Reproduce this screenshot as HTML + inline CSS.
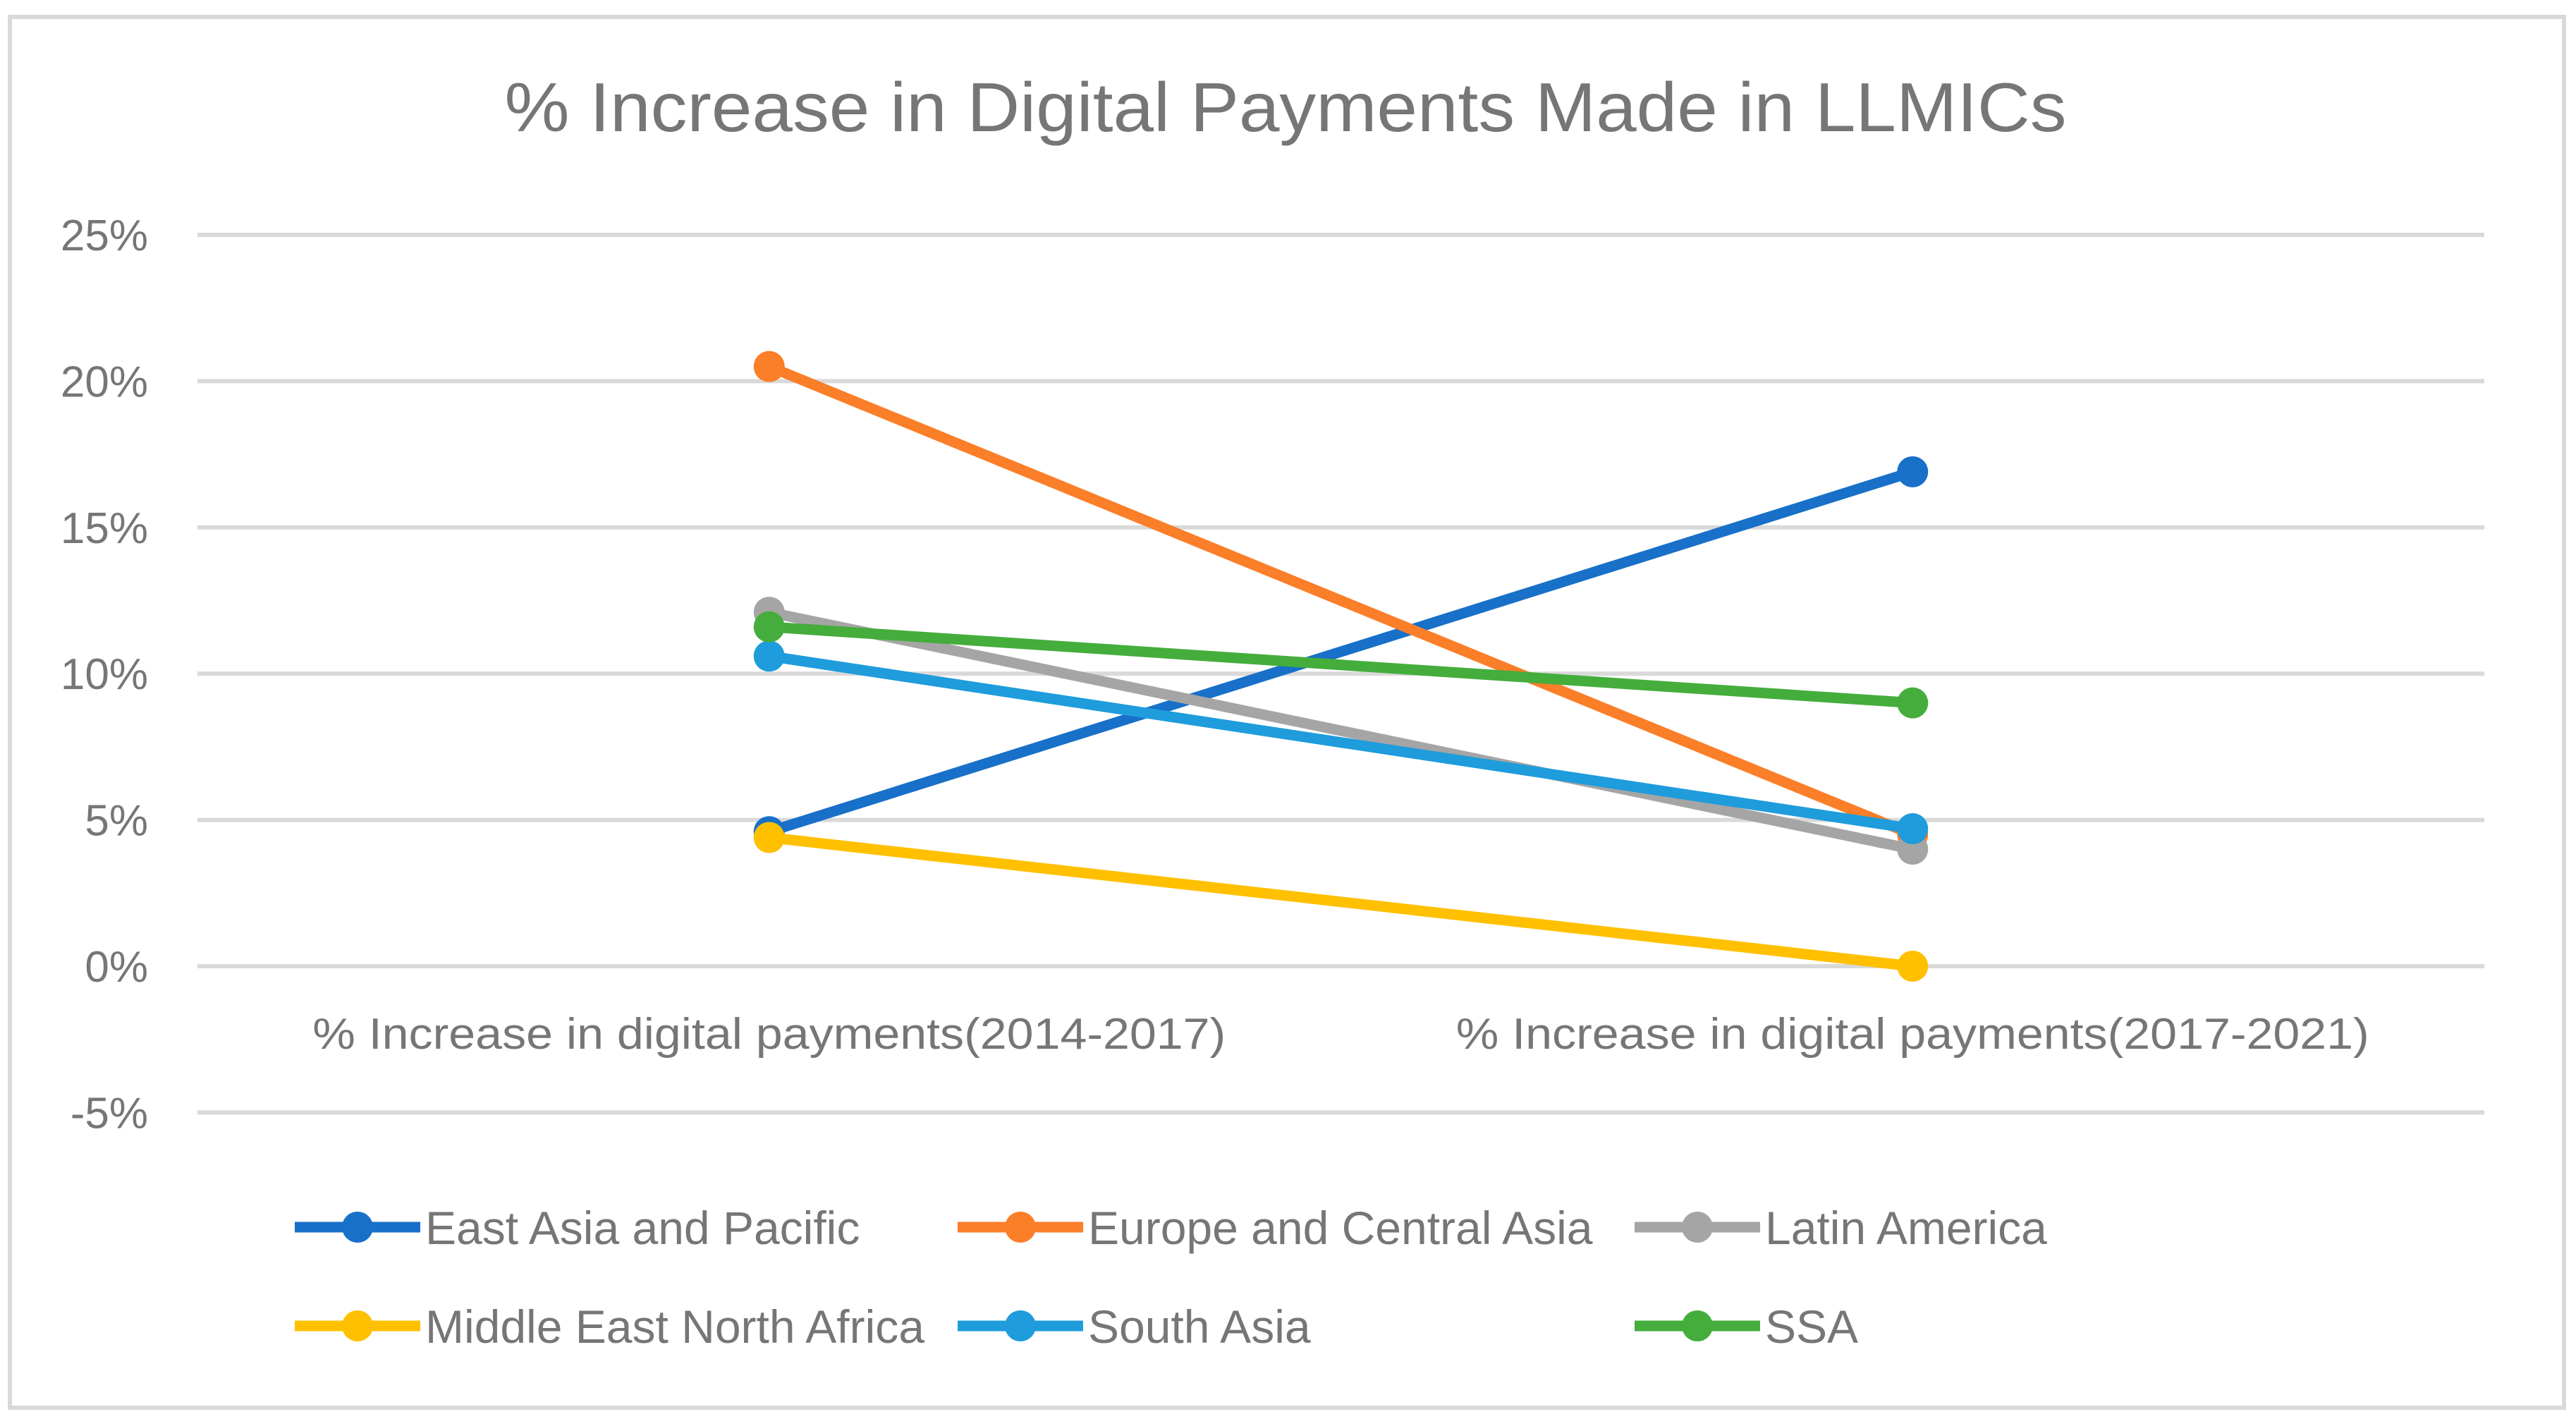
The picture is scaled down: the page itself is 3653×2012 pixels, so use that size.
<!DOCTYPE html>
<html><head><meta charset="utf-8"><style>
html,body{margin:0;padding:0;background:#fff;}
svg{display:block;font-family:"Liberation Sans",sans-serif;}
</style></head><body>
<svg id="chart" width="3653" height="2012" viewBox="0 0 3653 2012" xmlns="http://www.w3.org/2000/svg">
<rect x="14" y="24" width="3622" height="1972" fill="#fff" stroke="#d9d9d9" stroke-width="6"/>
<text x="1823" y="186" text-anchor="middle" font-size="98" fill="#767676" textLength="2215" lengthAdjust="spacingAndGlyphs">% Increase in Digital Payments Made in LLMICs</text>
<g id="grid"></g><g id="series"></g><g id="legend"></g>
</svg>
<script>
const categories=["% Increase in digital payments(2014-2017)","% Increase in digital payments(2017-2021)"];
const seriesNames=["East Asia and Pacific","Europe and Central Asia","Latin America","Middle East North Africa","South Asia","SSA"];
const eap=[4.6,16.9];
const eca=[20.5,4.5];
const lat=[12.1,4.0];
const mena=[4.4,0.0];
const sa=[10.6,4.7];
const ssa=[11.6,9.0];
const ticks=[-5,0,5,10,15,20,25];
const tickLabels=["-5%","0%","5%","10%","15%","20%","25%"];
const colors=["#1870c8","#fb7e28","#a5a5a5","#ffc000","#1e9cdc","#44ad3c"];
const NS="http://www.w3.org/2000/svg";
const X0=280,X1=3523,Y0=1370,PER=(1370-333)/25;
function y(v){return Y0-v*PER;}
function x(i){return X0+(X1-X0)*(i+0.5)/categories.length;}
function mk(t,a,p){const e=document.createElementNS(NS,t);for(const k in a)e.setAttribute(k,a[k]);p.appendChild(e);return e;}
const grid=document.getElementById('grid');
ticks.forEach((t,i)=>{
 const l=mk('line',{x1:X0,x2:X1,y1:y(t),y2:y(t),stroke:'#d9d9d9','stroke-width':6},grid);
 
 
 const tx=mk('text',{x:210,y:y(t)+22,'text-anchor':'end','font-size':62,fill:'#767676'},grid);
 tx.textContent=tickLabels[i];
 
 
});
categories.forEach((c,i)=>{
 const tx=mk('text',{x:x(i),y:1487,'text-anchor':'middle','font-size':62,fill:'#767676',textLength:1295,lengthAdjust:'spacingAndGlyphs'},grid);
 tx.textContent=c;
 
 
});
const data=[eap,eca,lat,mena,sa,ssa];
const sg=document.getElementById('series');
data.forEach((d,s)=>{
 const g=mk('g',{},sg);
 
 
 mk('polyline',{points:d.map((v,i)=>x(i)+','+y(v)).join(' '),fill:'none',stroke:colors[s],'stroke-width':15,'stroke-linejoin':'round'},g);
 d.forEach((v,i)=>{
  const c=mk('circle',{cx:x(i),cy:y(v),r:22,fill:colors[s]},g);
  
  
 });
});
const lg=document.getElementById('legend');
const lpos=[[418,1740],[1358,1740],[2318,1740],[418,1880],[1358,1880],[2318,1880]];
seriesNames.forEach((n,s)=>{
 const [lx,ly]=lpos[s];
 const g=mk('g',{},lg);
 
 
 mk('line',{x1:lx,x2:lx+178,y1:ly,y2:ly,stroke:colors[s],'stroke-width':15},g);
 mk('circle',{cx:lx+89,cy:ly,r:22,fill:colors[s]},g);
 const t=mk('text',{x:lx+185,y:ly+24,'font-size':66,fill:'#767676'},g);
 t.textContent=n;
});
</script>
</body></html>
